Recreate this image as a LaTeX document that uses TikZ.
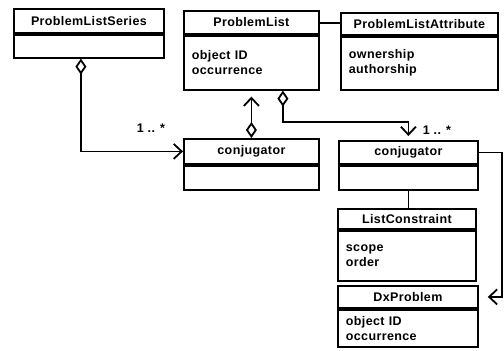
\documentclass[tikz,border=0pt]{standalone}
\usepackage{fontspec}
\newfontfamily\umlfont[LetterSpace=3]{Liberation Sans}
\usetikzlibrary{arrows.meta}

\tikzset{
  head/.style={draw, line width=1.8pt, anchor=north west, inner sep=0pt},
  body/.style={draw, line width=1.8pt, anchor=north, inner xsep=8pt, align=left},
  agg/.style={{Diamond[open,length=16pt,width=11pt,fill=white]}-{Straight Barb[length=8pt,width=15pt]}},
  nav/.style={-{Straight Barb[length=8pt,width=15pt]}},
}

\begin{document}
\begin{tikzpicture}[x=1pt, y=-1pt, font=\umlfont\bfseries\fontsize{12.5}{15}\selectfont, line width=1.8pt]
	\useasboundingbox (0,0) rectangle (504,351);
	% classes
	\node[head, minimum width=150pt, minimum height=24pt] (plsH) at (13,8) {ProblemListSeries};
	\node[body, minimum width=150pt, minimum height=23pt] (plsB) at (plsH.south) {};
	\node[head, minimum width=135pt, minimum height=23pt] (plH) at (183,10) {ProblemList};
	\node[body, minimum width=135pt, minimum height=54pt, text width=119pt] (plB) at (plH.south) {object ID\\occurrence};
	\node[head, minimum width=157pt, minimum height=22pt] (plaH) at (340,12) {ProblemListAttribute};
	\node[body, minimum width=157pt, minimum height=53pt, text width=141pt] (plaB) at (plaH.south) {ownership\\authorship};
	\node[head, minimum width=135pt, minimum height=25pt] (cjlH) at (183,138) {conjugator};
	\node[body, minimum width=135pt, minimum height=24pt] (cjlB) at (cjlH.south) {};
	\node[head, minimum width=139pt, minimum height=23pt] (cjrH) at (338,140) {conjugator};
	\node[body, minimum width=139pt, minimum height=24pt] (cjrB) at (cjrH.south) {};
	\node[head, minimum width=138pt, minimum height=20pt] (lcH) at (337,208) {ListConstraint};
	\node[body, minimum width=138pt, minimum height=50pt, text width=122pt] (lcB) at (lcH.south) {scope\\order};
	\node[head, minimum width=140pt, minimum height=22pt] (dxH) at (337,285) {DxProblem};
	\node[body, minimum width=140pt, minimum height=37pt, text width=124pt] (dxB) at (dxH.south) {object ID\\occurrence};
	% links
	\draw[agg] ([xshift=-8pt]plsB.south) |- (cjlH.west);
	\draw[agg, shorten >=6pt] (cjlH.north) -- (cjlH.north |- plB.south);
	\draw[agg, shorten >=4pt] ([xshift=31.5pt]plB.south) -- ++(0,31) -| (cjrH.north);
	\draw (plH.east |- 0,23) -- (plaH.west |- 0,23);
	\draw (cjrB.south) -- (cjrB.south |- lcH.north);
	\draw[nav, shorten >=9pt] (cjrH.east) -- ++(23,0) |- (dxH.east);
	\node (mulL) at (151,128) {1 .. *};
	\node (mulR) at (437,130) {1 .. *};
\end{tikzpicture}
\end{document}
